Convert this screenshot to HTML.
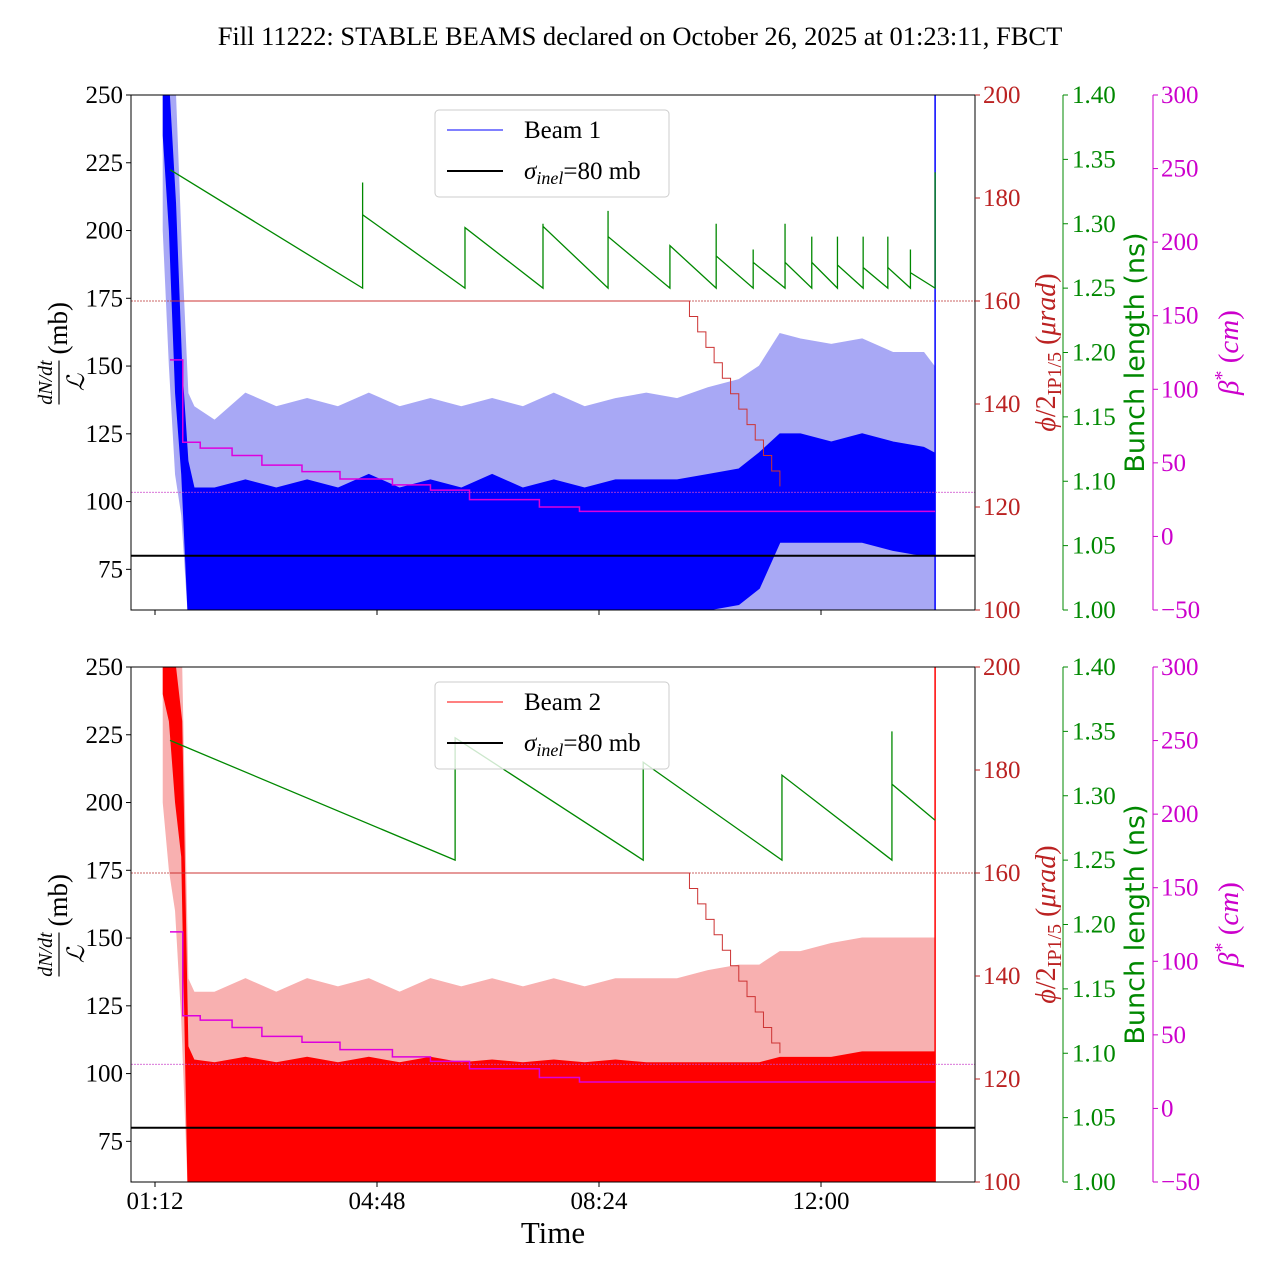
<!DOCTYPE html>
<html><head><meta charset="utf-8"><style>
body{margin:0;background:#fff;}
svg{display:block;font-family:"Liberation Serif",serif;}
</style></head><body>
<svg id="chart" width="1280" height="1280" viewBox="0 0 1280 1280" xmlns="http://www.w3.org/2000/svg">
<text x="640" y="45" font-size="26.5" text-anchor="middle">Fill 11222: STABLE BEAMS declared on October 26, 2025 at 01:23:11, FBCT</text>
<defs>
<clipPath id="c1"><rect x="131" y="95" width="844" height="515"/></clipPath>
<clipPath id="c2"><rect x="131" y="667" width="844" height="516"/></clipPath>
</defs>
<g id="g"></g>
</svg>
<script>
// time in minutes since midnight
const xTickLabels=["01:12","04:48","08:24","12:00"];
const xTickTimes=[72,288,504,720];
const leftTicks=[75,100,125,150,175,200,225,250];
const redTicks=[100,120,140,160,180,200];
const greenTicks=[1.00,1.05,1.10,1.15,1.20,1.25,1.30,1.35,1.40];
const magTicks=[-50,0,50,100,150,200,250,300];

const noiseT=[80,86,92,98,104,110,130,160,190,220,250,280,310,340,370,400,430,460,490,520,550,580,610,640,660,680,700,730,760,790,820,830];
const b1LightHi=[250,250,250,190,140,135,130,140,135,138,135,140,135,138,135,138,135,140,135,138,140,138,142,145,150,162,160,158,160,155,155,150];
const b1LightLo=[200,150,110,95,60,60,60,60,60,60,60,60,60,60,60,60,60,60,60,60,60,60,60,60,60,60,60,60,60,60,60,60];
const b1DarkHi=[250,250,210,150,115,105,105,108,105,108,105,110,105,108,105,110,105,108,105,108,108,108,110,112,118,125,125,122,125,122,120,118];
const b1DarkLo=[235,200,140,110,60,60,60,60,60,60,60,60,60,60,60,60,60,60,60,60,60,60,60,62,68,85,85,85,85,82,80,80];
const b2LightHi=[250,250,250,250,135,130,130,135,130,135,132,135,130,135,132,135,132,135,132,135,135,135,138,140,140,145,145,148,150,150,150,150];
const b2LightLo=[200,175,160,120,60,60,60,60,60,60,60,60,60,60,60,60,60,60,60,60,60,60,60,60,60,60,60,60,60,60,60,60];
const b2DarkHi=[250,250,250,230,110,105,104,106,104,106,104,106,104,106,104,105,104,105,104,105,104,104,104,104,104,106,106,106,108,108,108,108];
const b2DarkLo=[240,230,200,180,60,60,60,60,60,60,60,60,60,60,60,60,60,60,60,60,60,60,60,60,60,60,60,60,60,60,60,60];

const green1T=[86.6,274,274,274,274,373.6,373.6,373.6,449.5,449.5,449.5,512.8,512.8,512.8,573,573,618,618,618,654,654,654,685,685,685,711,711,711,736,736,736,761,761,761,785,785,785,807,807,807,831,831];
const green1V=[1.342,1.25,1.332,1.307,1.307,1.25,1.297,1.297,1.25,1.30,1.298,1.25,1.31,1.29,1.25,1.283,1.25,1.30,1.275,1.25,1.28,1.27,1.25,1.30,1.27,1.25,1.29,1.27,1.25,1.29,1.268,1.25,1.29,1.266,1.25,1.29,1.266,1.25,1.28,1.262,1.25,1.34];
const green2T=[86.6,364,364,364,547,547,682,682,789,789,789,831];
const green2V=[1.343,1.25,1.29,1.345,1.25,1.326,1.25,1.316,1.25,1.35,1.309,1.281];
const magT=[86.6,99,116,147,176,215,252,303,340,378,446,485,831];
const magV1=[120,64,60,55,48.5,44,39,35,31.5,25,20,17,17];
const magV2=[120,63,60,55,49,45,40,35,32,27,21,18,18];
const redT=[86.6,592,600,608,616,624,632,640,648,656,664,672,680];
const redV1=[160,157,154,151,148,145,142,139,136,133,130,127,124];
const redV2=[160,157,154,151,148,145,142,139,136,133,130,127,125];

const NS="http://www.w3.org/2000/svg";
const G=document.getElementById('g');
function el(tag,attrs,parent,txt){const e=document.createElementNS(NS,tag);for(const k in attrs)e.setAttribute(k,attrs[k]);if(txt!==undefined)e.textContent=txt;(parent||G).appendChild(e);return e;}
const X=t=>155+(t-72)*1.0278;
const FS=25;
function panel(y0,light,lightHi,lightLo,dark,darkHi,darkLo,gT,gV,magV,redV,label,isBottom,clip){
  const H=515;
  const yL=v=>y0+(250-v)/190*H, yR=v=>y0+(200-v)/100*H, yG=v=>y0+(1.4-v)/0.4*H, yM=v=>y0+(300-v)/350*H;
  const pg=el('g',{'clip-path':'url(#'+clip+')'});
  
  
  function band(hi,lo,col,name){
    let p=noiseT.map((t,i)=>X(t)+','+yL(hi[i]));
    for(let i=noiseT.length-1;i>=0;i--)p.push(X(noiseT[i])+','+yL(lo[i]));
    const e=el('polygon',{points:p.join(' '),fill:col,stroke:col,'stroke-width':1},pg);
    
    
  }
  band(lightHi,lightLo,light,'beam-envelope-light');
  band(darkHi,darkLo,dark,'beam-envelope-dark');
  const vl=el('line',{x1:X(831),x2:X(831),y1:yL(250),y2:yL(60),stroke:dark,'stroke-width':1.5},pg);
  
  
  const d1=el('line',{x1:131,x2:975,y1:yR(160),y2:yR(160),stroke:'#b33','stroke-width':0.8,'stroke-dasharray':'2,1'},pg);
  
  
  const d2=el('line',{x1:131,x2:975,y1:yM(30),y2:yM(30),stroke:'#c4c','stroke-width':0.8,'stroke-dasharray':'2,1'},pg);
  
  
  let rp=[];redT.forEach((t,i)=>{if(i>0)rp.push(X(t)+','+yR(redV[i-1]));rp.push(X(t)+','+yR(redV[i]));});
  const rl=el('polyline',{points:rp.join(' '),fill:'none',stroke:'#c33','stroke-width':1},pg);
  
  
  let mp=[];magT.forEach((t,i)=>{if(i>0)mp.push(X(t)+','+yM(magV[i-1]));mp.push(X(t)+','+yM(magV[i]));});
  const ml=el('polyline',{points:mp.join(' '),fill:'none',stroke:'#d0d','stroke-width':1.5},pg);
  
  
  const gl=el('polyline',{points:gT.map((t,i)=>X(t)+','+yG(gV[i])).join(' '),fill:'none',stroke:'#080','stroke-width':1.3},pg);
  
  
  const bl=el('line',{x1:131,x2:975,y1:yL(80),y2:yL(80),stroke:'#000','stroke-width':2},pg);
  
  
  const fr=el('rect',{x:131,y:y0,width:844,height:H,fill:'none',stroke:'#000','stroke-width':1});
  
  
  leftTicks.forEach(v=>{el('line',{x1:126,x2:131,y1:yL(v),y2:yL(v),stroke:'#000'});
    const t=el('text',{x:123,y:yL(v)+8,'font-size':FS,'text-anchor':'end'},G,v);
    
    });
  redTicks.forEach(v=>{el('line',{x1:975,x2:980,y1:yR(v),y2:yR(v),stroke:'#b22'});
    const t=el('text',{x:983,y:yR(v)+8,'font-size':FS,fill:'#b22'},G,v);
    
    });
  el('line',{x1:1063,x2:1063,y1:y0,y2:y0+H,stroke:'#080'});
  greenTicks.forEach(v=>{el('line',{x1:1063,x2:1068,y1:yG(v),y2:yG(v),stroke:'#080'});
    const t=el('text',{x:1072,y:yG(v)+8,'font-size':FS,fill:'#080'},G,v.toFixed(2));
    
    });
  el('line',{x1:1153,x2:1153,y1:y0,y2:y0+H,stroke:'#c0c'});
  magTicks.forEach(v=>{el('line',{x1:1153,x2:1158,y1:yM(v),y2:yM(v),stroke:'#c0c'});
    const t=el('text',{x:1161,y:yM(v)+8,'font-size':FS,fill:'#c0c'},G,v<0?'\u2212'+(-v):v);
    
    });
  xTickTimes.forEach((t,i)=>{el('line',{x1:X(t),x2:X(t),y1:y0+H,y2:y0+H+5,stroke:'#000'});
    if(isBottom){const tx=el('text',{x:X(t),y:y0+H+27,'font-size':FS,'text-anchor':'middle'},G,xTickLabels[i]);
      
      }});
  const cy=y0+H/2;
  const ll=el('g',{transform:`translate(62,${cy}) rotate(-90)`});
  
  
  el('text',{x:-30,y:-10,'font-size':20,'font-style':'italic','text-anchor':'middle'},ll,'dN/dt');
  el('line',{x1:-52,x2:-8,y1:-3,y2:-3,stroke:'#000','stroke-width':1.2},ll);
  el('text',{x:-30,y:22,'font-size':24,'font-style':'italic','text-anchor':'middle'},ll,'\u2112');
  el('text',{x:-2,y:5,'font-size':27},ll,'(mb)');
  const rlab=el('text',{transform:`translate(1055,${cy}) rotate(-90)`,'font-size':28,fill:'#b22','text-anchor':'middle'},G);
  
  
  rlab.innerHTML='<tspan font-style="italic">\u03d5</tspan>/2<tspan font-size="20" dy="6">IP1/5</tspan><tspan dy="-6"> (</tspan><tspan font-style="italic">\u03bcrad</tspan>)';
  const glab=el('text',{transform:`translate(1144,${cy}) rotate(-90)`,'font-size':27,fill:'#080','text-anchor':'middle','font-family':'DejaVu Sans, sans-serif'},G,'Bunch length (ns)');
  
  
  const mlab=el('text',{transform:`translate(1238,${cy}) rotate(-90)`,'font-size':29,fill:'#c0c','text-anchor':'middle'},G);
  
  
  mlab.innerHTML='<tspan font-style="italic">\u03b2</tspan><tspan dy="-10" font-size="20">*</tspan><tspan dy="10"> (</tspan><tspan font-style="italic">cm</tspan>)';
  const lg=el('g',{});
  
  
  el('rect',{x:435,y:y0+15,width:234,height:87,rx:4,fill:'#fff','fill-opacity':0.8,stroke:'#ccc'},lg);
  el('line',{x1:447,x2:503,y1:y0+35,y2:y0+35,stroke:dark,'stroke-width':1},lg);
  el('text',{x:524,y:y0+43,'font-size':25},lg,label);
  el('line',{x1:447,x2:503,y1:y0+76,y2:y0+76,stroke:'#000','stroke-width':2},lg);
  const s=el('text',{x:524,y:y0+84,'font-size':25},lg);
  s.innerHTML='<tspan font-style="italic">\u03c3</tspan><tspan font-style="italic" font-size="18" dy="5">inel</tspan><tspan dy="-5">=80 mb</tspan>';
}
panel(95,'#a8a8f5',b1LightHi,b1LightLo,'#0000ff',b1DarkHi,b1DarkLo,green1T,green1V,magV1,redV1,'Beam 1',false,'c1');
panel(667,'#f8b0b0',b2LightHi,b2LightLo,'#ff0000',b2DarkHi,b2DarkLo,green2T,green2V,magV2,redV2,'Beam 2',true,'c2');
const xt=el('text',{x:553,y:1243,'font-size':31,'text-anchor':'middle'},G,'Time');


</script>
</body></html>
